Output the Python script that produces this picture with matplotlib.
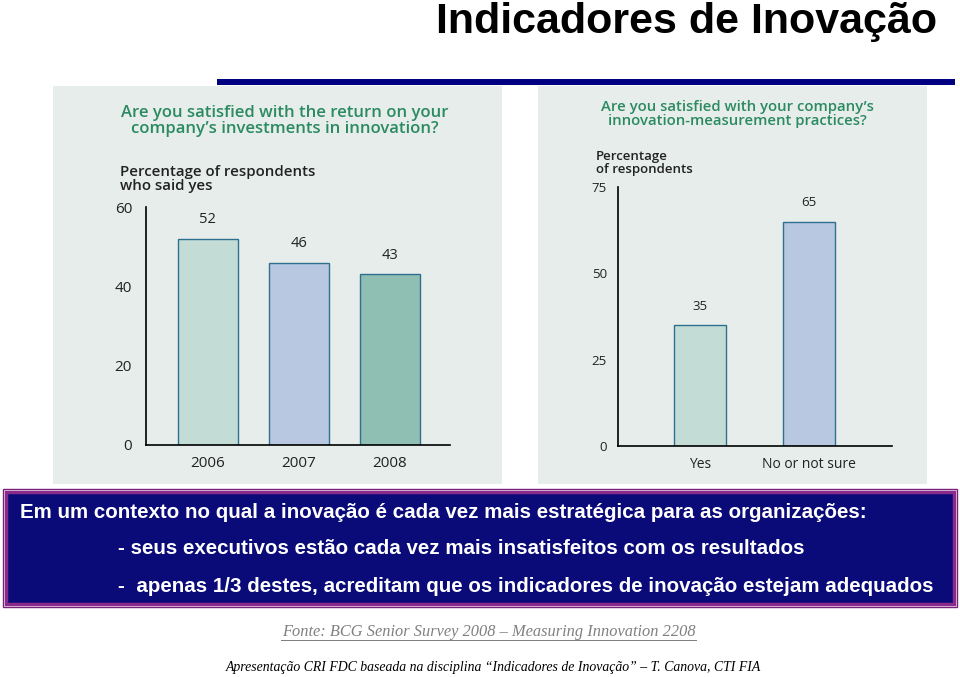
import matplotlib
matplotlib.use("Agg")
import matplotlib.pyplot as plt
from matplotlib.patches import Rectangle

# data
years = ["2006", "2007", "2008"]
return_yes = [52, 46, 43]
return_colors = ["#c3ddd6", "#b9c8e1", "#8fbfb3"]

answers = ["Yes", "No or not sure"]
measure_pct = [35, 65]
measure_colors = ["#c3ddd6", "#b9c8e1"]

W, H = 960, 677
fig = plt.figure(figsize=(W / 100, H / 100), dpi=100)
fig.patch.set_facecolor("white")


def px(x, y):
    # pixel (top-left origin) -> figure fraction
    return x / W, 1 - y / H


def add_rect(x0, y0, x1, y1, **kw):
    fx0, fy1 = px(x0, y1)
    fig.patches.append(Rectangle((fx0, fy1), (x1 - x0) / W, (y1 - y0) / H,
                                 transform=fig.transFigure, figure=fig, zorder=-1, **kw))


def axes_px(x0, y0, x1, y1):
    fx0, fy1 = px(x0, y1)
    ax = fig.add_axes([fx0, fy1, (x1 - x0) / W, (y1 - y0) / H])
    ax.set_zorder(2)
    return ax


chart_font = ["Open Sans", "DejaVu Sans"]
green = "#2b8a62"
edge = "#2f6f90"

# heading
fig.text(*px(937, 22), "Indicadores de Inovação", ha="right", va="center",
         fontsize=31, fontweight="bold", family=["Liberation Sans Narrow", "Liberation Sans"],
         color="black")
add_rect(217, 79, 955, 85, facecolor="#000080", edgecolor="none")

# panel backgrounds
add_rect(53, 86, 502, 484, facecolor="#e6edea", edgecolor="none")
add_rect(538, 86, 927, 484, facecolor="#e6edea", edgecolor="none")

# left chart
ax1 = axes_px(146, 207, 450, 445)
ax1.bar(range(len(years)), return_yes, width=0.66, color=return_colors,
        edgecolor=edge, linewidth=1)
for i, v in enumerate(return_yes):
    ax1.text(i, v + 3, str(v), ha="center", va="bottom", fontsize=10.5,
             family=chart_font, color="#222222")
ax1.set_xlim(-0.68, 2.66)
ax1.set_ylim(0, 60)
ax1.set_yticks([0, 20, 40, 60])
ax1.set_xticks(range(len(years)))
ax1.set_xticklabels(years)

fig.text(*px(285, 121), "Are you satisfied with the return on your\ncompany’s investments in innovation?",
         ha="center", va="center", fontsize=12, fontweight="semibold",
         family=chart_font, color=green, linespacing=1.0)
fig.text(*px(120, 179), "Percentage of respondents\nwho said yes", ha="left", va="center",
         fontsize=10.8, fontweight="semibold", family=chart_font, color="#222222",
         linespacing=1.0)

# right chart
ax2 = axes_px(618, 187, 892, 446)
ax2.bar(range(len(answers)), measure_pct, width=0.47, color=measure_colors,
        edgecolor=edge, linewidth=1)
for i, v in enumerate(measure_pct):
    ax2.text(i, v + 3.5, str(v), ha="center", va="bottom", fontsize=9.5,
             family=chart_font, color="#222222")
ax2.set_xlim(-0.75, 1.76)
ax2.set_ylim(0, 75)
ax2.set_yticks([0, 25, 50, 75])
ax2.set_xticks(range(len(answers)))
ax2.set_xticklabels(answers)

fig.text(*px(737, 114), "Are you satisfied with your company’s\ninnovation-measurement practices?",
         ha="center", va="center", fontsize=10.7, fontweight="semibold",
         family=chart_font, color=green, linespacing=1.0)
fig.text(*px(596, 163), "Percentage\nof respondents", ha="left", va="center",
         fontsize=9.5, fontweight="semibold", family=chart_font, color="#222222",
         linespacing=1.0)

for ax in (ax1, ax2):
    ax.set_facecolor("none")
    ax.spines["top"].set_visible(False)
    ax.spines["right"].set_visible(False)
    ax.spines["left"].set_linewidth(1.2)
    ax.spines["bottom"].set_linewidth(1.2)
    ax.tick_params(length=0, labelsize=11, colors="#222222", pad=8)
    for lab in ax.get_xticklabels() + ax.get_yticklabels():
        lab.set_family(chart_font)
ax1.tick_params(axis="y", pad=10)
ax2.tick_params(axis="y", pad=8, labelsize=9.5)
ax2.tick_params(axis="x", labelsize=10)

# message box
add_rect(3, 489, 957, 607, facecolor="none", edgecolor="#7a1f7a", linewidth=1)
add_rect(6, 492, 954, 604, facecolor="#0a0a78", edgecolor="#8a2a8a", linewidth=2.5)
box_font = ["Liberation Sans", "DejaVu Sans"]
box_lines = [
    (20, 513, "Em um contexto no qual a inovação é cada vez mais estratégica para as organizações:"),
    (118, 549, "- seus executivos estão cada vez mais insatisfeitos com os resultados"),
    (118, 586, "-  apenas 1/3 destes, acreditam que os indicadores de inovação estejam adequados"),
]
for x, y, s in box_lines:
    fig.text(*px(x, y), s, ha="left", va="center", fontsize=14.8, fontweight="bold",
             family=box_font, color="white")

# footers
serif = ["Liberation Serif", "DejaVu Serif"]
fig.text(*px(489, 632), "Fonte: BCG Senior Survey 2008 – Measuring Innovation 2208",
         ha="center", va="center", fontsize=11.8, style="italic", family=serif,
         color="#808080")
fig.text(*px(493, 667), "Apresentação CRI FDC baseada na disciplina “Indicadores de Inovação” – T. Canova, CTI FIA",
         ha="center", va="center", fontsize=9.9, style="italic", family=serif, color="black")
# underline for the source line
add_rect(281, 640, 697, 641, facecolor="#808080", edgecolor="none")

fig.savefig("out.png", dpi=100)
